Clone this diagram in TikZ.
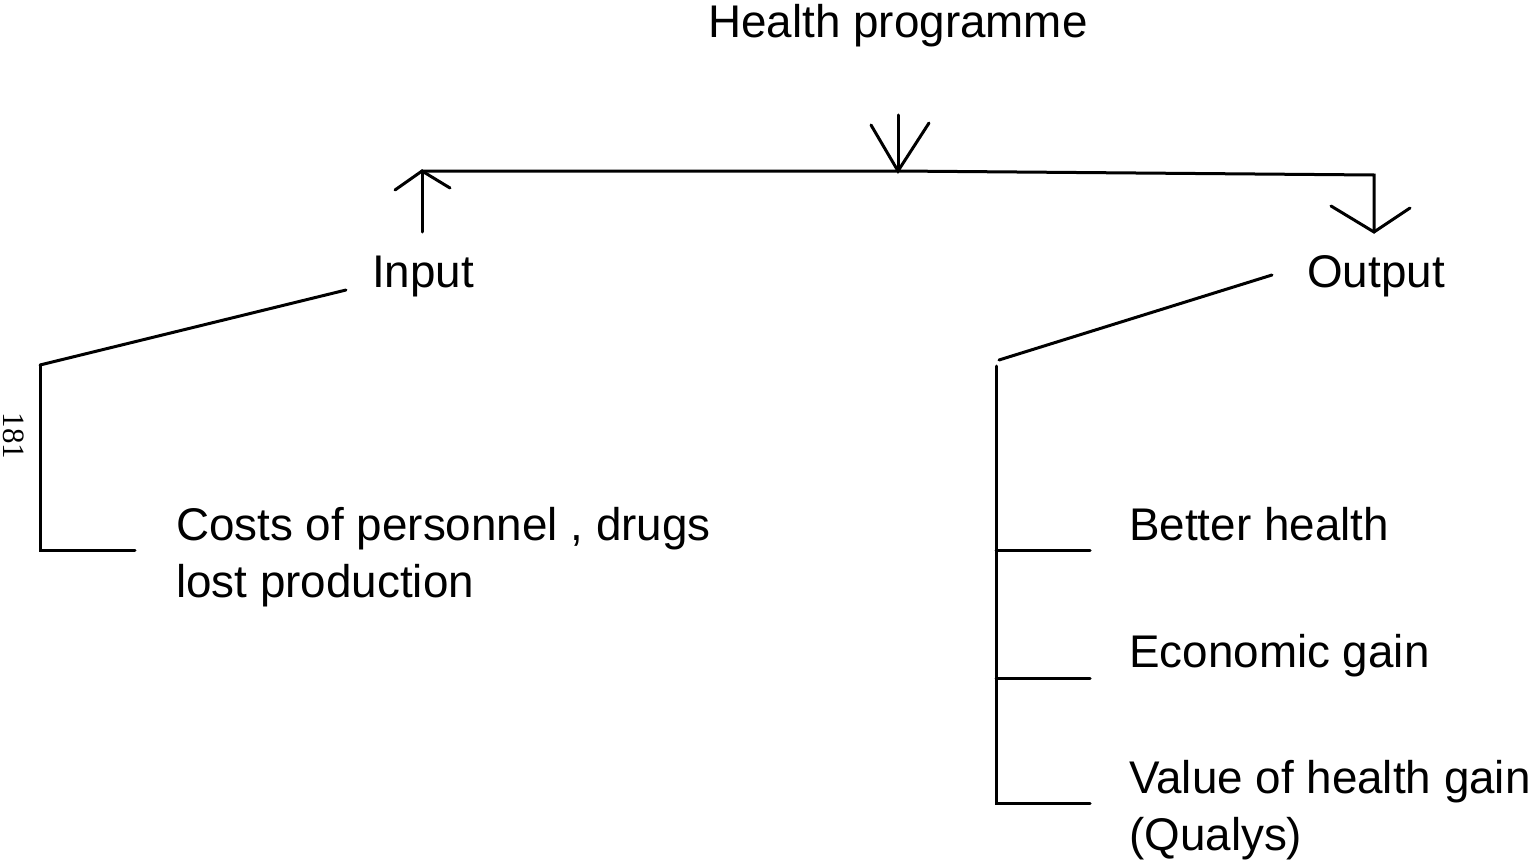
\documentclass[tikz,border=0pt]{standalone}
\usepackage{fontspec}
\setmainfont{Liberation Sans}
\newfontfamily\serifnum{Liberation Serif}
\begin{document}
\begin{tikzpicture}[x=1pt,y=-1pt,
  ln/.style={line width=3pt, line cap=round, line join=miter},
  lbl/.style={inner sep=0pt, font=\fontsize{45.8}{48}\selectfont, anchor=base west}]
\useasboundingbox (0,0) rectangle (1533,864);
% texts
\node[lbl, anchor=base] (hp) at (898,38) {Health programme};
\node[lbl, anchor=base] (in) at (423,287) {Input};
\node[lbl, anchor=base] (out) at (1376,287) {Output};
\node[lbl] (costs) at (176,540) {Costs of personnel , drugs};
\node[lbl] (lost) at (176,597) {lost production};
\node[lbl] (better) at (1129,540) {Better health};
\node[lbl] (econ) at (1129,667) {Economic gain};
\node[lbl] (value) at (1129,793) {Value of health gain};
\node[lbl] (qual) at (1129,850) {(Qualys)};
\node[inner sep=0pt, rotate=-90, font=\serifnum\fontsize{31}{31}\selectfont] (pg) at (14,436) {181};
% coordinates
\coordinate (ctop) at (898,115);
\coordinate (ctip) at (898,171);
\coordinate (cl) at (871,125);
\coordinate (cr) at (929,123);
\coordinate (itip) at (422,171);
\coordinate (ibot) at (422,232);
\coordinate (il) at (395,190);
\coordinate (ir) at (450,188);
\coordinate (oc) at (1374,175);
\coordinate (otip) at (1374,232);
\coordinate (ol) at (1331,206);
\coordinate (or) at (1410,208);
\coordinate (is) at (346,290);
\coordinate (ie) at (40,365);
\coordinate (ib) at (40,550);
\coordinate (ibr) at (135,550);
\coordinate (os) at (1272,275);
\coordinate (oe) at (999,360);
\coordinate (ot) at (996,366);
\coordinate (o1) at (996,550);
\coordinate (o2) at (996,678);
\coordinate (o3) at (996,803);
\coordinate (o1r) at (1090,550);
\coordinate (o2r) at (1090,678);
\coordinate (o3r) at (1090,803);
% lines
\draw[ln] (itip) -- (ctip) -- (oc) -- (otip);
\draw[ln] (ctop) -- (ctip);
\draw[ln] (cl) -- (ctip) -- (cr);
\draw[ln] (itip) -- (ibot);
\draw[ln] (il) -- (itip) -- (ir);
\draw[ln] (ol) -- (otip) -- (or);
\draw[ln] (is) -- (ie);
\draw[ln] (ie) -- (ib) -- (ibr);
\draw[ln] (os) -- (oe);
\draw[ln] (ot) -- (o3) -- (o3r);
\draw[ln] (o1) -- (o1r);
\draw[ln] (o2) -- (o2r);
\end{tikzpicture}
\end{document}
